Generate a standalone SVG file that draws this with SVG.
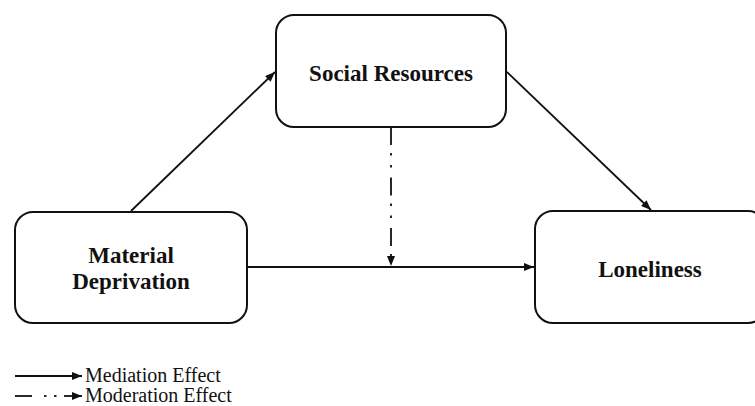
<svg xmlns="http://www.w3.org/2000/svg" width="755" height="406" viewBox="0 0 755 406">
<style>
.box{fill:#fff;stroke:#111;stroke-width:2}
.lbl{font-family:"Liberation Serif","Times New Roman",serif;font-weight:bold;font-size:23px;fill:#111;text-anchor:middle}
.leg{font-family:"Liberation Serif","Times New Roman",serif;font-size:20px;fill:#111}
.ln{stroke:#111;stroke-width:1.8;fill:none}
.dd{stroke-dasharray:18 8 2.5 9.5 2.5 10}
</style>
<defs>
<marker id="ah" viewBox="0 0 10 8" refX="10" refY="4" markerWidth="10" markerHeight="8" markerUnits="userSpaceOnUse" orient="auto">
<path d="M0,0 L10,4 L0,8 Z" fill="#111"/>
</marker>
</defs>
<g id="connectors">
<line class="ln" x1="131" y1="211" x2="275" y2="72" marker-end="url(#ah)"/>
<line class="ln" x1="507" y1="72" x2="651" y2="210" marker-end="url(#ah)"/>
<line class="ln" x1="247" y1="267" x2="534" y2="267" marker-end="url(#ah)"/>
<line class="ln dd" x1="391" y1="127" x2="391" y2="266" marker-end="url(#ah)"/>
</g>
<g id="social-resources">
<rect class="box" x="276" y="15" width="230" height="112" rx="18"/>
<text class="lbl" x="391" y="81">Social Resources</text>
</g>
<g id="material-deprivation">
<rect class="box" x="15" y="212" width="232" height="111" rx="18"/>
<text class="lbl" x="131" y="263">Material</text>
<text class="lbl" x="131" y="289">Deprivation</text>
</g>
<g id="loneliness">
<rect class="box" x="535" y="211" width="231" height="112" rx="18"/>
<text class="lbl" x="650" y="277">Loneliness</text>
</g>
<g id="legend">
<line class="ln" x1="15" y1="376" x2="82" y2="376" marker-end="url(#ah)"/>
<text class="leg" x="85" y="382">Mediation Effect</text>
<line class="ln" x1="15" y1="396" x2="32" y2="396"/>
<line class="ln" x1="44" y1="396" x2="46.5" y2="396"/>
<line class="ln" x1="54" y1="396" x2="56.5" y2="396"/>
<line class="ln" x1="64" y1="396" x2="82" y2="396" marker-end="url(#ah)"/>
<text class="leg" x="85" y="402">Moderation Effect</text>
</g>
</svg>
